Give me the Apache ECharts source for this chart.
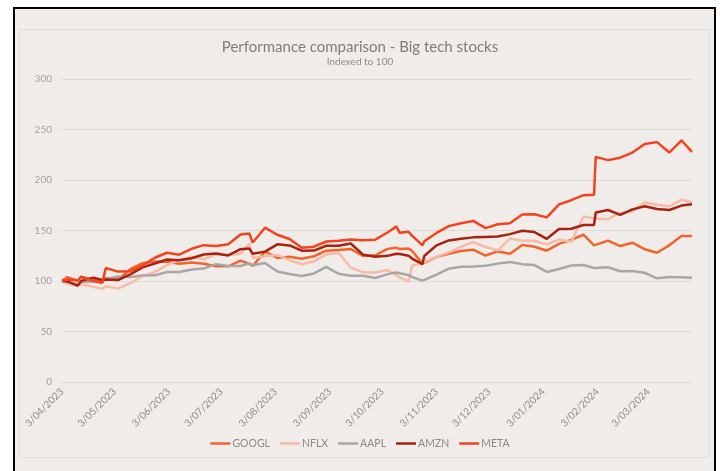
<!DOCTYPE html>
<html>
<head>
<meta charset="utf-8">
<title>Performance comparison - Big tech stocks</title>
<script src="https://cdn.jsdelivr.net/npm/echarts@6/dist/echarts.min.js"></script>
<style>
  html, body { margin: 0; padding: 0; background: #fff; }
  #frame {
    position: absolute; left: 13px; top: 7px; width: 699px; height: 470px;
    border: 2px solid #000; border-bottom: none; background: #F0ECE9;
  }
  #panel {
    position: absolute; left: 19px; top: 29px; width: 689px; height: 427px;
    border: 1px solid #E0DCD9;
  }
  #chart { position: absolute; left: 0; top: 0; width: 720px; height: 471px; }
</style>
</head>
<body>
<div id="frame"></div>
<div id="panel"></div>
<div id="chart"></div>
<script>
// Sample dates (weekly closes plus a few event days)
const dates = [
  '2023-04-03', '2023-04-06', '2023-04-12', '2023-04-14', '2023-04-21', '2023-04-26', '2023-04-28',
  '2023-05-05', '2023-05-12', '2023-05-19', '2023-05-26',
  '2023-06-02', '2023-06-09', '2023-06-16', '2023-06-23', '2023-06-30',
  '2023-07-07', '2023-07-14', '2023-07-19', '2023-07-21', '2023-07-28',
  '2023-08-04', '2023-08-11', '2023-08-18', '2023-08-25',
  '2023-09-01', '2023-09-08', '2023-09-15', '2023-09-22', '2023-09-29',
  '2023-10-06', '2023-10-11', '2023-10-13', '2023-10-18', '2023-10-20', '2023-10-26', '2023-10-27',
  '2023-11-03', '2023-11-10', '2023-11-17', '2023-11-24',
  '2023-12-01', '2023-12-08', '2023-12-15', '2023-12-22', '2023-12-29',
  '2024-01-05', '2024-01-12', '2024-01-19', '2024-01-26',
  '2024-02-01', '2024-02-02', '2024-02-09', '2024-02-16', '2024-02-23',
  '2024-03-01', '2024-03-08', '2024-03-15', '2024-03-22', '2024-03-28'
];

const googl = [
  100, 103.9, 100.3, 104.3, 101, 100, 102.9,
  101.2, 111.7, 117.6, 119.2,
  119, 117, 118.4, 117, 114.7,
  114.5, 120.2, 116.9, 115, 129,
  122.8, 124, 122, 124.5,
  130, 130.7, 131.7, 124.8, 125.4,
  131.8, 133, 131.6, 132.2, 130, 117.2, 117,
  124, 127, 129.7, 131,
  125.2, 129.3, 127, 135.6, 133.9,
  130, 136.7, 140.7, 145.8,
  135.3, 136.4, 140, 134.6, 137.9,
  131.4, 128, 135.3, 144.5, 144.6
];

const nflx = [
  100, 97.4, 95, 97.1, 94.2, 92.2, 94.7,
  92.7, 97.6, 104.9, 108.8,
  115.7, 120.6, 124, 121.5, 126.5,
  125.8, 126.9, 137.1, 122.7, 124.5,
  125.8, 120.6, 116.6, 119.5,
  126.3, 128, 113.3, 108.6, 108.4,
  110.8, 106, 103.6, 99.4, 115.1, 118, 116.5,
  124.2, 128.4, 133.8, 138.5,
  133.7, 130.3, 142, 139.8, 139.8,
  136.3, 141.3, 138.7, 163.8,
  162, 162.1, 161.2, 167.7, 168.7,
  177.8, 175.5, 174, 180.4, 178
];

const aapl = [
  100, 99.1, 96.3, 99.4, 99.3, 98.6, 102.1,
  104.5, 103.9, 105.4, 105.6,
  108.9, 108.9, 111.3, 112.3, 116.7,
  114.8, 114.8, 117.4, 115.5, 117.8,
  109.5, 107, 105, 107.5,
  114, 107.2, 105.3, 105.2, 103,
  106.8, 108.5, 107.6, 105.8, 104, 100.4, 101.2,
  106.3, 112.2, 114.2, 114.3,
  115.1, 117.2, 118.9, 116.7, 115.8,
  109, 111.9, 115.3, 115.8,
  112.8, 111.8, 113.6, 109.7, 109.8,
  108.1, 102.7, 103.9, 103.7, 103.2
];

const amzn = [
  100, 99.7, 95.5, 100.1, 103.2, 101, 101.5,
  101, 106.5, 113.5, 117.3,
  121.3, 120.5, 122.5, 126.3, 127.3,
  125.3, 131.5, 132.2, 126.9, 129.1,
  136.3, 135.2, 130, 130.1,
  134.9, 135, 137.1, 126.1, 124.1,
  124.9, 127, 126.7, 125.1, 122.2, 116.8, 124.7,
  135.3, 140.2, 141.8, 143.2,
  143.6, 144, 146.4, 149.8, 148.4,
  141.8, 151.5, 151.7, 155.4,
  155.5, 167.8, 170.3, 165.5, 170.9,
  174, 171.2, 170.3, 174.7, 176.1
];

const meta = [
  100, 101.4, 100.4, 104, 99.9, 98.3, 112.8,
  109.3, 109.7, 115.3, 123,
  128, 126, 131.9, 135.5, 134.7,
  136.4, 146, 147, 138.1, 152.8,
  145.8, 141.6, 132.9, 134,
  139.1, 139.8, 141, 140.4, 140.9,
  148, 154, 147.7, 148.8, 144.9, 135.3, 139.3,
  147.6, 154.3, 157.2, 159.5,
  152.4, 156.2, 157.2, 165.9, 166.1,
  163, 175.8, 180, 185,
  185.3, 222.9, 219.7, 222.1, 227.2,
  235.7, 237.5, 227.2, 239.2, 227.9
];

// x axis ticks (monthly, on the 3rd)
const tickDates = [
  '2023-04-03', '2023-05-03', '2023-06-03', '2023-07-03', '2023-08-03', '2023-09-03',
  '2023-10-03', '2023-11-03', '2023-12-03', '2024-01-03', '2024-02-03', '2024-03-03'
];
const tickLabels = [
  '3/04/2023', '3/05/2023', '3/06/2023', '3/07/2023', '3/08/2023', '3/09/2023',
  '3/10/2023', '3/11/2023', '3/12/2023', '3/01/2024', '3/02/2024', '3/03/2024'
];

const seriesNames = ['GOOGL', 'NFLX', 'AAPL', 'AMZN', 'META'];
const seriesValues = [googl, nflx, aapl, amzn, meta];
const seriesColors = ['#F2642C', '#F7BBA8', '#A9A7A5', '#A8220F', '#F4431C'];

const FONT = 'Lato, "Noto Sans", sans-serif';
const toTime = d => Date.UTC(+d.slice(0, 4), +d.slice(5, 7) - 1, +d.slice(8, 10));
const tickTimes = tickDates.map(toTime);

const chart = echarts.init(document.getElementById('chart'));

const option = {
  backgroundColor: 'transparent',
  animation: false,
  textStyle: { fontFamily: FONT },
  title: {
    text: 'Performance comparison - Big tech stocks',
    subtext: 'Indexed to 100',
    left: 'center',
    top: 35,
    itemGap: 2,
    textStyle: { fontSize: 15, fontWeight: 'normal', color: '#7F7C7A', fontFamily: FONT },
    subtextStyle: { fontSize: 10, color: '#8F8C8A', fontFamily: FONT }
  },
  legend: {
    data: seriesNames,
    bottom: 17,
    left: 'center',
    icon: 'rect',
    itemWidth: 20,
    itemHeight: 2.5,
    itemGap: 10,
    textStyle: { fontSize: 10.5, color: '#8C8987', fontFamily: FONT, padding: [0, 0, 0, -3] }
  },
  grid: { left: 62, right: 28, top: 79, bottom: 89, containLabel: false },
  xAxis: {
    type: 'value',
    min: toTime('2023-04-03'),
    max: toTime('2024-03-28'),
    axisLine: { show: true, onZero: false, lineStyle: { color: '#DDD9D6', width: 1 } },
    axisTick: { show: false },
    splitLine: { show: false },
    axisLabel: {
      customValues: tickTimes,
      rotate: 45,
      margin: 8,
      fontSize: 10,
      color: '#8F8C8A',
      fontFamily: FONT,
      formatter: function (value) {
        const i = tickTimes.indexOf(value);
        return i >= 0 ? tickLabels[i] : '';
      }
    }
  },
  yAxis: {
    type: 'value',
    min: 0,
    max: 300,
    interval: 50,
    axisLine: { show: false },
    axisTick: { show: false },
    splitLine: { lineStyle: { color: '#DDD9D6', width: 1 } },
    axisLabel: { fontSize: 10, color: '#A3A09E', margin: 10, fontFamily: FONT }
  },
  series: seriesNames.map((name, k) => ({
    name: name,
    type: 'line',
    symbol: 'none',
    data: dates.map((d, i) => [toTime(d), seriesValues[k][i]]),
    lineStyle: { width: 2.5, color: seriesColors[k] },
    itemStyle: { color: seriesColors[k] }
  }))
};

chart.setOption(option);
</script>
</body>
</html>
